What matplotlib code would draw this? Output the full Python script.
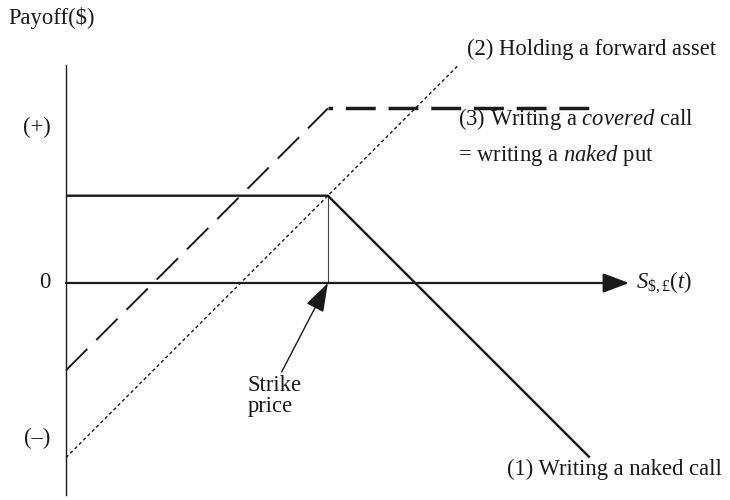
import matplotlib
matplotlib.use("Agg")
import matplotlib.pyplot as plt

plt.rcParams["font.family"] = ["Liberation Serif", "DejaVu Serif"]
plt.rcParams["mathtext.fontset"] = "custom"
plt.rcParams["mathtext.rm"] = "Liberation Serif"
plt.rcParams["mathtext.it"] = "Liberation Serif:italic"
plt.rcParams["mathtext.bf"] = "Liberation Serif:bold"

# payoff diagram data (strike K = 3, premium = 1)
strike = 3.0
s_call = [0, 3, 6]
naked_call = [1, 1, -2]
s_fwd = [0, 4.5]
forward = [-2, 2.5]
s_cov_up = [0, 3]
covered_up = [-1, 2]
s_cov_flat = [3, 6]
covered_flat = [2, 2]
y_ticks = [1.78, 0, -1.78]
y_labels = ["(+)", "0", "(\u2013)"]

FS = 16.3
INK = "#1a1a1a"

fig = plt.figure(figsize=(7.3, 5.0), dpi=100)
ax = fig.add_axes([0, 0, 1, 1])
ax.set_xlim(-0.756, 7.606)
ax.set_ylim(-2.486, 3.242)
ax.axis("off")

# axes
ax.plot([0, 0], [2.5, -2.43], color=INK, lw=1.0)
ax.annotate("", xy=(6.45, 0), xytext=(0, 0),
            arrowprops=dict(arrowstyle="-|>,head_length=0.8,head_width=0.3",
                            lw=1.6, color=INK, shrinkA=0, shrinkB=0,
                            mutation_scale=20))

# strike marker
ax.plot([strike, strike], [0, 1], color="#444444", lw=0.8)
ax.annotate("", xy=(strike, 0), xytext=(2.47, -1.02),
            arrowprops=dict(arrowstyle="-|>,head_length=0.9,head_width=0.3",
                            lw=1.0, color=INK, shrinkA=0, shrinkB=0,
                            mutation_scale=20))

# (1) naked call
ax.plot(s_call, naked_call, color=INK, lw=1.7, solid_capstyle="butt")
# (2) forward asset
ax.plot(s_fwd, forward, color=INK, lw=1.0, dashes=(2.4, 2.0))
# (3) covered call
ax.plot(s_cov_up, covered_up, color=INK, lw=1.4, dashes=(15.5, 6.5))
ax.plot(s_cov_flat, covered_flat, color=INK, lw=2.5,
        linestyle=(7.3, (8.6, 3.7)))

for yv, lab in zip(y_ticks, y_labels):
    ax.text(-0.18, yv, lab, ha="right", va="center", fontsize=FS, color=INK)

ax.text(-0.665, 3.035, "Payoff($)", ha="left", va="center", fontsize=FS, color=INK)
ax.text(6.53, 0, "$S_{\\mathrm{\\$,\u00a3}}(t)$", ha="left", va="center",
        fontsize=FS, color=INK)
ax.text(2.08, -1.3, "Strike\nprice", ha="left", va="center", fontsize=FS,
        color=INK, linespacing=1.0)
ax.text(4.59, 2.68, "(2) Holding a forward asset", ha="left", va="center",
        fontsize=FS, color=INK)
ax.text(4.49, 1.88, r"(3) Writing a $\mathit{covered}$ call", ha="left",
        va="center", fontsize=FS, color=INK)
ax.text(4.49, 1.46, r"= writing a $\mathit{naked}$ put", ha="left",
        va="center", fontsize=FS, color=INK)
ax.text(5.05, -2.14, "(1) Writing a naked call", ha="left", va="center",
        fontsize=FS, color=INK)

fig.savefig("out.png", dpi=100, facecolor="white")
